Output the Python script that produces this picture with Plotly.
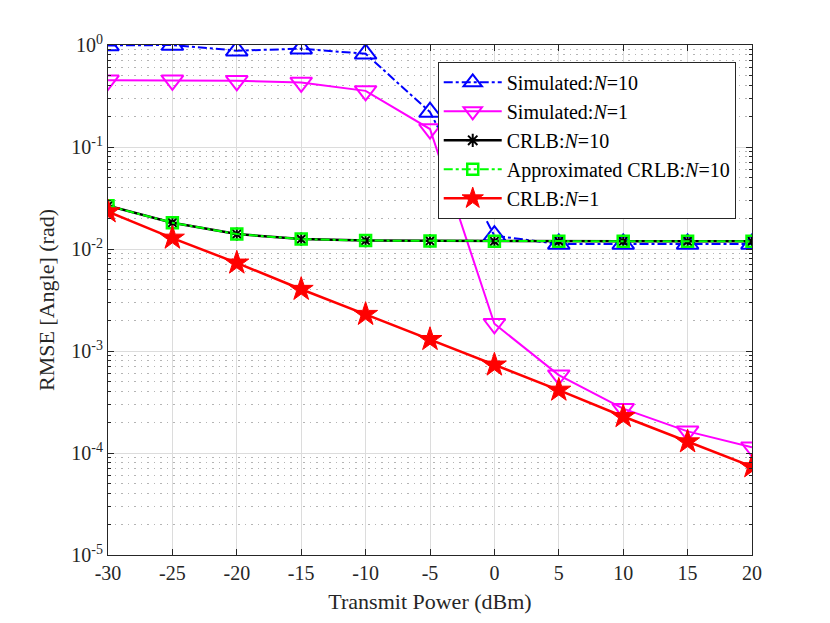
import plotly.graph_objects as go

power = [-30, -25, -20, -15, -10, -5, 0, 5, 10, 15, 20]

sim_n10 = [0.99, 1.0, 0.88, 0.92, 0.82, 0.22, 0.0135, 0.0112, 0.0112, 0.0112, 0.0112]
sim_n1 = [0.45, 0.45, 0.445, 0.43, 0.355, 0.15, 0.00185, 0.00058, 0.000272, 0.000163, 0.000114]
crlb_n10 = [0.0265, 0.0181, 0.014, 0.0125, 0.0121, 0.012, 0.0119, 0.0119, 0.0119, 0.0119, 0.0119]
approx_n10 = [0.0265, 0.0181, 0.014, 0.0125, 0.0121, 0.012, 0.0119, 0.0119, 0.0119, 0.0119, 0.0119]
crlb_n1 = [0.0232, 0.0128, 0.0073, 0.00403, 0.00229, 0.0013, 0.00073, 0.000414, 0.000228, 0.000129, 0.0000735]

ytick_vals = [1e-5, 1e-4, 1e-3, 1e-2, 1e-1, 1e0]
ytick_text = ["10<sup>-5</sup>", "10<sup>-4</sup>", "10<sup>-3</sup>",
              "10<sup>-2</sup>", "10<sup>-1</sup>", "10<sup>0</sup>"]

FONT = "Liberation Serif, Times New Roman, serif"

fig = go.Figure()

fig.add_trace(go.Scatter(
    x=power, y=sim_n10, name="Simulated:<i>N</i>=10", mode="lines+markers",
    line=dict(color="#0000FF", width=2, dash="dashdot"),
    marker=dict(symbol="triangle-up-open", size=19, color="#0000FF",
                line=dict(width=2, color="#0000FF"))))
fig.add_trace(go.Scatter(
    x=power, y=sim_n1, name="Simulated:<i>N</i>=1", mode="lines+markers",
    line=dict(color="#FF00FF", width=2),
    marker=dict(symbol="triangle-down-open", size=19, color="#FF00FF",
                line=dict(width=2, color="#FF00FF"))))
fig.add_trace(go.Scatter(
    x=power, y=crlb_n10, name="CRLB:<i>N</i>=10", mode="lines+markers",
    line=dict(color="#000000", width=2.5),
    marker=dict(symbol="asterisk-open", size=11, color="#000000",
                line=dict(width=2, color="#000000"))))
fig.add_trace(go.Scatter(
    x=power, y=approx_n10, name="Approximated CRLB:<i>N</i>=10", mode="lines+markers",
    line=dict(color="#00FF00", width=2, dash="dashdot"),
    marker=dict(symbol="square-open", size=11, color="#00FF00",
                line=dict(width=2.5, color="#00FF00"))))
fig.add_trace(go.Scatter(
    x=power, y=crlb_n1, name="CRLB:<i>N</i>=1", mode="lines+markers",
    line=dict(color="#FF0000", width=2.5),
    marker=dict(symbol="star", size=18, color="#FF0000",
                line=dict(width=1, color="#FF0000"))))

fig.update_layout(
    width=830, height=623,
    paper_bgcolor="white", plot_bgcolor="white",
    margin=dict(l=100, r=86, t=37, b=76),
    font=dict(family=FONT, size=20, color="#262626"),
    legend=dict(x=0.512, y=0.967, xanchor="left", yanchor="top",
                bgcolor="white", bordercolor="#262626", borderwidth=1,
                font=dict(family=FONT, size=20, color="#000000"),
                tracegroupgap=0, itemwidth=58),
)

fig.update_xaxes(
    range=[-30, 20], tickvals=power, ticktext=[str(p) for p in power],
    automargin=False,
    showline=True, linecolor="#262626", linewidth=1, mirror="allticks",
    ticks="inside", ticklen=6, tickcolor="#262626",
    showgrid=True, gridcolor="#DCDCDC", gridwidth=1, zeroline=False,
    tickfont=dict(family=FONT, size=20),
    title=dict(text="Transmit Power (dBm)", font=dict(family=FONT, size=22), standoff=10),
)
fig.update_yaxes(
    type="log", range=[-5, 0], tickvals=ytick_vals, ticktext=ytick_text,
    automargin=False,
    showline=True, linecolor="#262626", linewidth=1, mirror="allticks",
    ticks="inside", ticklen=6, tickcolor="#262626",
    showgrid=True, gridcolor="#DCDCDC", gridwidth=1, zeroline=False,
    minor=dict(dtick="D1", ticks="inside", ticklen=3, tickcolor="#262626",
               showgrid=True, gridcolor="#B4B4B4", griddash="1.5px,5px", gridwidth=1),
    tickfont=dict(family=FONT, size=20),
    title=dict(text="RMSE [Angle] (rad)", font=dict(family=FONT, size=22), standoff=10),
)

fig.write_html("out.html")
